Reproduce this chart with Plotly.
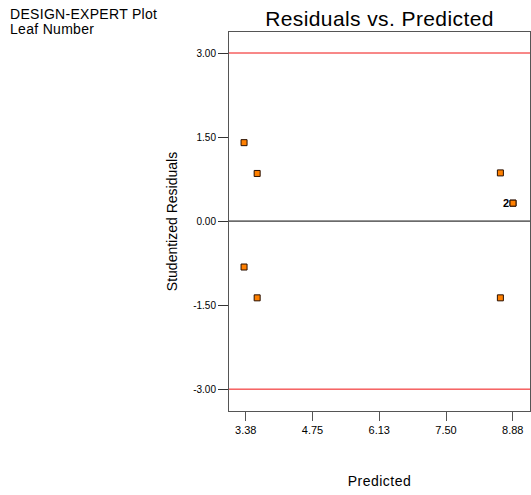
import plotly.graph_objects as go

predicted = [3.34, 3.61, 3.34, 3.61, 8.62, 8.62, 8.88, 8.88]
residuals = [1.40, 0.85, -0.82, -1.37, 0.86, -1.37, 0.32, 0.32]
x_ticks = [3.375, 4.75, 6.125, 7.5, 8.875]
x_tick_text = ["3.38", "4.75", "6.13", "7.50", "8.88"]
y_ticks = [-3.0, -1.5, 0.0, 1.5, 3.0]
y_tick_text = ["-3.00", "-1.50", "0.00", "1.50", "3.00"]
limit_lines = [3.0, -3.0]

FONT = "Liberation Sans, Arial, sans-serif"
fig = go.Figure()

fig.add_trace(go.Scatter(
    x=predicted, y=residuals, mode="markers",
    marker=dict(symbol="square", size=6, color="#FF8000",
                line=dict(color="#2a1000", width=1)),
    showlegend=False, hoverinfo="x+y"))

shapes = []
for v in limit_lines:
    shapes.append(dict(type="line", xref="paper", x0=0, x1=1, yref="y", y0=v, y1=v,
                       line=dict(color="#F01010", width=1)))
shapes.append(dict(type="line", xref="paper", x0=0, x1=1, yref="y", y0=0, y1=0,
                   line=dict(color="black", width=1)))

PW = 531 - 229 - 1
PH = 495 - 32 - 84


def spaced(t, px):
    return '<span style="letter-spacing:%spx">%s</span>' % (px, t)


fig.update_layout(
    width=531, height=495,
    margin=dict(l=229, r=1, t=32, b=84),
    paper_bgcolor="white", plot_bgcolor="white",
    font=dict(family=FONT, color="black", size=10),
    shapes=shapes,
    title=dict(text=spaced("Residuals vs. Predicted", 0.4), x=0.7147, xanchor="center",
               y=0.963, yanchor="middle", font=dict(size=21, family=FONT)),
    xaxis=dict(range=[3.03, 9.23], tickvals=x_ticks, ticktext=x_tick_text,
               ticks="outside", ticklen=9, tickcolor="#555", showgrid=False,
               zeroline=False, showline=True, linecolor="#555", mirror=True,
               tickfont=dict(size=11),
               title=dict(text=spaced("Predicted", 0.5), font=dict(size=14), standoff=40)),
    yaxis=dict(range=[-3.39, 3.375], tickvals=y_ticks, ticktext=y_tick_text,
               ticks="outside", ticklen=10, tickcolor="#333", showgrid=False,
               zeroline=False, showline=True, linecolor="#555", mirror=True,
               tickfont=dict(size=10),
               title=dict(text="Studentized Residuals", font=dict(size=14), standoff=12)),
    annotations=[
        dict(text=spaced("DESIGN-EXPERT Plot", 0.3), xref="paper", yref="paper",
             x=-229 / PW, y=1 + 32 / PH, xanchor="left", yanchor="middle", showarrow=False,
             align="left", font=dict(size=14), yshift=-14, xshift=8),
        dict(text=spaced("Leaf Number", 0.3), xref="paper", yref="paper",
             x=-229 / PW, y=1 + 32 / PH, xanchor="left", yanchor="middle", showarrow=False,
             align="left", font=dict(size=14), yshift=-29, xshift=8),
        dict(text="<b>2</b>", x=8.88, y=0.32, xref="x", yref="y", showarrow=False,
             xanchor="right", xshift=-2, font=dict(size=11)),
    ],
)

fig.write_html("out.html")
